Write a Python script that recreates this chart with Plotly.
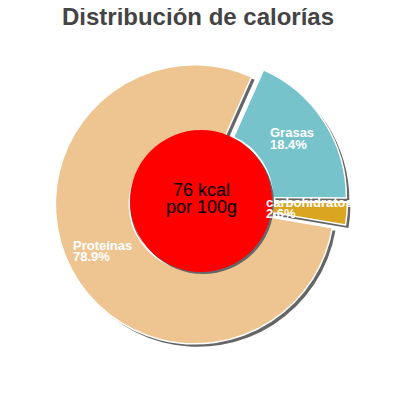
import plotly.graph_objects as go

labels = ["Grasas", "carbohidratos", "Proteínas"]
percents = [18.4, 2.6, 78.9]
kcal = 76
slice_colors = ["#77C3CC", "#DAA520", "#EEC591"]

W = H = 400
OFF = 8  # page body margin of the html page


def px(x):
    return (x - OFF) / W


def py(y):
    return 1 - (y - OFF) / H


# pie geometry in screen pixels
cx, cy, box = 201, 201, 293
pull = 0.05
sh = 3  # shadow offset

dom_x = [px(cx - box / 2), px(cx + box / 2)]
dom_y = [py(cy + box / 2), py(cy - box / 2)]

fig = go.Figure()

# shadow
fig.add_trace(go.Pie(
    labels=labels, values=percents, sort=False, direction="clockwise",
    rotation=24, hole=0.47, pull=[pull] * 3, textinfo="none",
    hoverinfo="skip", showlegend=False,
    marker=dict(colors=["#666666"] * 3, line=dict(width=0)),
    domain=dict(x=[dom_x[0] + sh / W, dom_x[1] + sh / W],
                y=[dom_y[0] - sh / H, dom_y[1] - sh / H]),
))

fig.add_trace(go.Pie(
    labels=labels, values=percents, sort=False, direction="clockwise",
    rotation=24, hole=0.47, pull=[pull] * 3, textinfo="none",
    showlegend=False,
    marker=dict(colors=slice_colors, line=dict(color="white", width=1.5)),
    domain=dict(x=dom_x, y=dom_y),
))

# red centre disc with its shadow
r_in = 71
fig.add_shape(type="circle", xref="paper", yref="paper", layer="above",
              x0=px(cx - r_in + 2), x1=px(cx + r_in + 2),
              y0=py(cy + r_in + 2), y1=py(cy - r_in + 2),
              fillcolor="#666666", line=dict(width=0))
fig.add_shape(type="circle", xref="paper", yref="paper", layer="above",
              x0=px(cx - r_in), x1=px(cx + r_in),
              y0=py(cy + r_in), y1=py(cy - r_in),
              fillcolor="#FF0000", line=dict(width=0))

font = "Liberation Sans, Arial, sans-serif"


def note(text, x, y, size, color, anchor="left", weight="normal"):
    fig.add_annotation(text=text, xref="paper", yref="paper",
                       x=px(x), y=py(y), xanchor=anchor, yanchor="middle",
                       showarrow=False, borderpad=0, borderwidth=0,
                       font=dict(family=font, size=size, color=color,
                                 weight=weight))


# slice labels
label_pos = [(269.5, 132.8, 144.8), (265.5, 202.2, 213.8), (72.5, 245.5, 256.5)]
for lab, pct, (lx, ly1, ly2) in zip(labels, percents, label_pos):
    note(lab, lx, ly1, 13, "white", weight="bold")
    note(f"{pct:.1f}%", lx, ly2, 13, "white", weight="bold")

# centre text
note(f"{kcal} kcal", cx, 190, 18, "black", anchor="center")
note("por 100g", cx, 206.5, 18, "black", anchor="center")

fig.update_layout(
    width=W, height=H,
    margin=dict(l=0, r=0, t=0, b=0),
    paper_bgcolor="white", plot_bgcolor="white",
    title=dict(text="Distribución de calorías", x=px(198), xanchor="center",
               y=py(17), yanchor="middle", yref="container",
               font=dict(family=font, size=24, color="#444444",
                         weight="bold")),
)

fig.write_html("out.html")
